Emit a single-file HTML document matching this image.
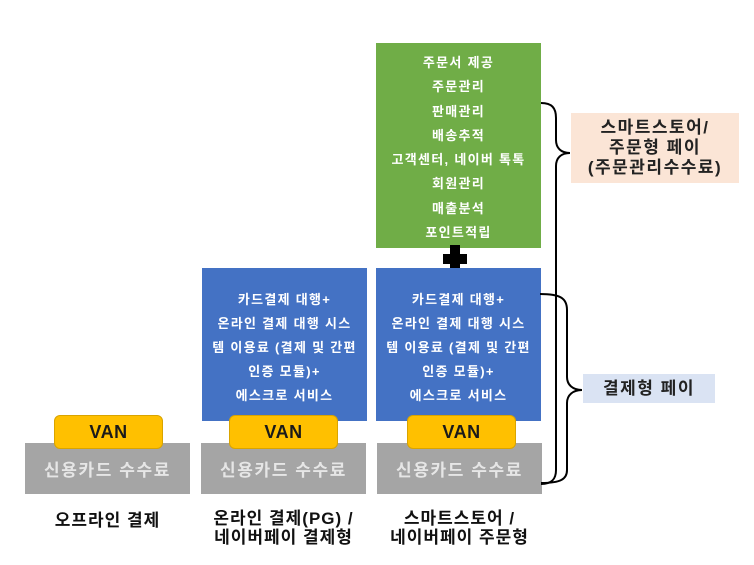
<!DOCTYPE html>
<html>
<head>
<meta charset="utf-8">
<style>
  html, body { margin:0; padding:0; }
  body { width:754px; height:565px; background:#ffffff; position:relative; overflow:hidden;
         font-family:"Liberation Sans","Noto Sans CJK KR",sans-serif; font-weight:bold; }
  .box { position:absolute; box-sizing:border-box; }
  .green { background:#70ad47; left:376px; top:43px; width:165px; height:205px; }
  .blue { background:#4472c4; top:268px; width:165px; height:153px; }
  .gray { background:#a5a5a5; top:443px; width:165px; height:51px; color:#e6e6e6;
          font-size:17px; display:flex; align-items:center; justify-content:center; letter-spacing:1.6px; }
  .van { background:#ffc000; border:1px solid #d9a400; border-radius:6px; top:415px; width:109px; height:34px;
         color:#1a1a1a; font-size:18px; display:flex; align-items:center; justify-content:center; letter-spacing:0.5px; }
  .lines { position:absolute; left:0; right:0; text-align:center; color:#fff; font-size:13px; letter-spacing:1.3px; }
  .lines div { height:24.3px; line-height:24.3px; white-space:nowrap; }
  .blines div { height:24px; line-height:24px; }
  .cap { position:absolute; text-align:center; font-size:17px; color:#111; line-height:19px; white-space:nowrap; letter-spacing:1px; }
  .lbl { position:absolute; display:flex; align-items:center; justify-content:center; text-align:center;
         font-size:17px; color:#222; line-height:20px; letter-spacing:1.5px; }
</style>
</head>
<body>

<div class="box green">
  <div class="lines" style="top:8px;">
    <div>주문서 제공</div>
    <div>주문관리</div>
    <div>판매관리</div>
    <div>배송추적</div>
    <div>고객센터, 네이버 톡톡</div>
    <div>회원관리</div>
    <div>매출분석</div>
    <div>포인트적립</div>
  </div>
</div>

<!-- plus sign -->
<div class="box" style="left:450px; top:245px; width:10px; height:30px; background:#000;"></div>
<div class="box" style="left:443px; top:254px; width:24px; height:10px; background:#000;"></div>

<div class="box blue" style="left:202px;">
  <div class="lines blines" style="top:20px;">
    <div>카드결제 대행+</div>
    <div>온라인 결제 대행 시스</div>
    <div>템 이용료 (결제 및 간편</div>
    <div>인증 모듈)+</div>
    <div>에스크로 서비스</div>
  </div>
</div>
<div class="box blue" style="left:376px;">
  <div class="lines blines" style="top:20px;">
    <div>카드결제 대행+</div>
    <div>온라인 결제 대행 시스</div>
    <div>템 이용료 (결제 및 간편</div>
    <div>인증 모듈)+</div>
    <div>에스크로 서비스</div>
  </div>
</div>

<div class="box gray" style="left:25px;">신용카드 수수료</div>
<div class="box gray" style="left:201px;">신용카드 수수료</div>
<div class="box gray" style="left:377px;">신용카드 수수료</div>

<div class="box van" style="left:54px;">VAN</div>
<div class="box van" style="left:229px;">VAN</div>
<div class="box van" style="left:407px;">VAN</div>

<div class="cap" style="left:25px; width:165px; top:511px;">오프라인 결제</div>
<div class="cap" style="left:201px; width:165px; top:509px;">온라인 결제(PG) /<br>네이버페이 결제형</div>
<div class="cap" style="left:377px; width:165px; top:509px;">스마트스토어 /<br>네이버페이 주문형</div>

<svg width="754" height="565" style="position:absolute; left:0; top:0;" xmlns="http://www.w3.org/2000/svg">
  <path d="M541,103 C552,103 556,108 556,118 L556,140 C556,148 561,153 570,153 C561,153 556,158 556,166 L556,470 C556,479 552,484 541,484"
        fill="none" stroke="#000" stroke-width="2"/>
  <path d="M540,294 C560,294 567,298 567,310 L567,377 C567,385 573,390 582,390 C573,390 567,395 567,403 L567,470 C567,479 561,483 541,483"
        fill="none" stroke="#000" stroke-width="2"/>
</svg>

<div class="lbl" style="left:571px; top:113px; width:168px; height:70px; background:#fbe5d6;">스마트스토어/<br>주문형 페이<br>(주문관리수수료)</div>
<div class="lbl" style="left:583px; top:374px; width:132px; height:29px; background:#dae3f3;">결제형 페이</div>

</body>
</html>
